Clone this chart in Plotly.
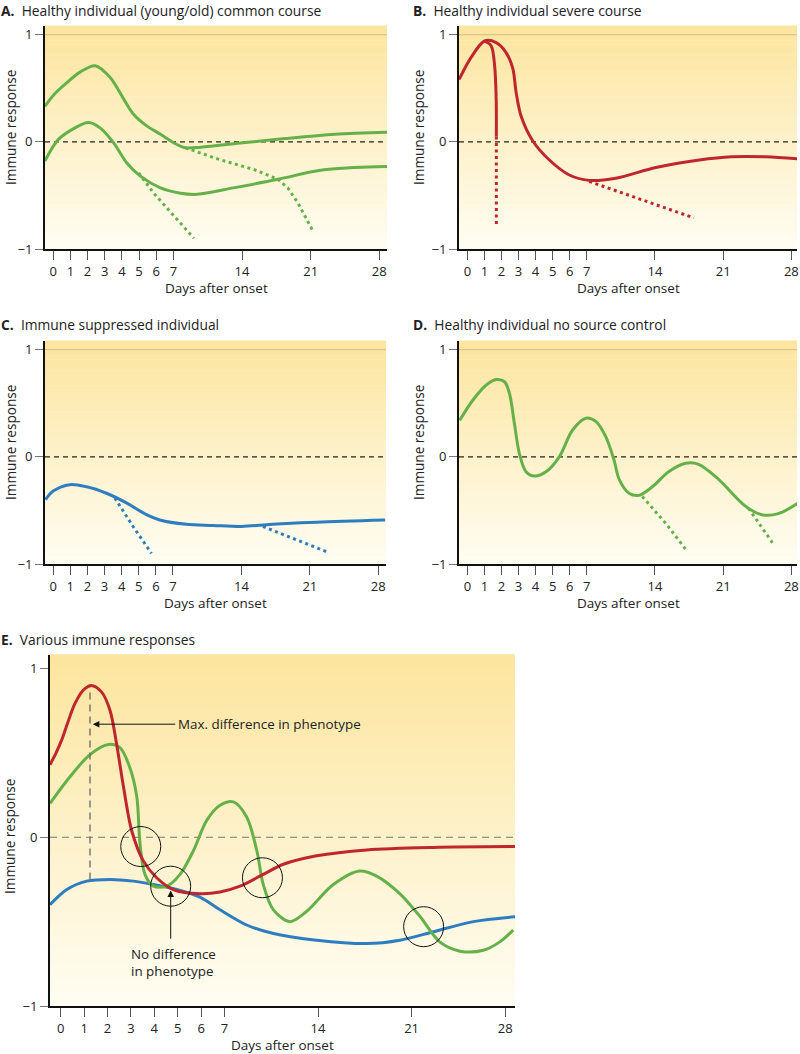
import plotly.graph_objects as go

# ---------------- data (days after onset, immune response) ----------------
A_up_days = [-0.49, 0.1, 0.78, 1.56, 2.44, 3.32, 4.1, 4.69, 5.47, 6.25, 7.05, 8.24, 9.8, 14.1, 18.4, 23.5, 28.9]
A_up_vals = [0.33, 0.45, 0.55, 0.65, 0.71, 0.60, 0.40, 0.255, 0.146, 0.07, -0.01, -0.056, -0.05, -0.01, 0.03, 0.07, 0.09]
A_up_dot_days = [8.24, 11.5, 15.26, 17.66, 18.67, 19.7, 21.25]
A_up_dot_vals = [-0.056, -0.16, -0.26, -0.35, -0.43, -0.57, -0.835]
A_lo_days = [-0.49, 0.29, 1.27, 2.05, 2.73, 3.52, 4.3, 5.08, 6.25, 7.74, 9.45, 13.13, 17.68, 21.7, 25.55, 28.9]
A_lo_vals = [-0.18, 0.02, 0.13, 0.18, 0.13, -0.01, -0.20, -0.32, -0.43, -0.48, -0.49, -0.43, -0.35, -0.27, -0.24, -0.23]
A_lo_dot_days = [4.98, 5.86, 7.05, 9.1]
A_lo_dot_vals = [-0.29, -0.48, -0.69, -0.90]

B_days = [-0.49, 0.23, 1.01, 1.69, 2.28, 2.67, 2.86, 3.15, 3.83, 4.81, 5.98, 7.26, 9.98, 14.09, 18.55, 21.88, 25.38, 28.9]
B_vals = [0.58, 0.79, 0.94, 0.925, 0.83, 0.68, 0.46, 0.24, 0.01, -0.17, -0.31, -0.36, -0.34, -0.24, -0.17, -0.14, -0.14, -0.16]
B_drop_days = [1.01, 1.40, 1.60, 1.69, 1.70]
B_drop_vals = [0.94, 0.894, 0.707, 0.40, 0.05]
B_drop_dot_days = [1.70, 1.70]
B_drop_dot_vals = [0.05, -0.78]
B_dot_days = [7.26, 18.0]
B_dot_vals = [-0.37, -0.71]

C_days = [-0.45, 0.0, 0.97, 1.95, 3.11, 4.28, 5.45, 6.23, 8.37, 11.1, 14.0, 17.15, 21.7, 28.7]
C_vals = [-0.40, -0.32, -0.26, -0.28, -0.34, -0.43, -0.54, -0.59, -0.63, -0.64, -0.65, -0.63, -0.61, -0.59]
C_dot1_days = [3.6, 4.67, 5.74]
C_dot1_vals = [-0.385, -0.65, -0.90]
C_dot2_days = [16.2, 23.0]
C_dot2_vals = [-0.65, -0.896]

D_days = [-0.45, 0.33, 1.11, 1.69, 2.18, 2.47, 2.76, 3.05, 3.44, 3.93, 4.61, 5.39, 6.17, 6.95, 7.93, 8.94, 9.8, 10.33,
          11.34, 12.36, 13.72, 15.4, 17.15, 18.48, 20.53, 23.28, 24.96, 26.67, 28.9]
D_vals = [0.34, 0.53, 0.67, 0.72, 0.70, 0.59, 0.31, 0.03, -0.14, -0.18, -0.14, 0.0, 0.25, 0.36, 0.33, 0.19, -0.03, -0.21,
          -0.34, -0.36, -0.28, -0.14, -0.06, -0.07, -0.21, -0.46, -0.54, -0.53, -0.42]
D_dot1_days = [12.7, 15.1, 17.3]
D_dot1_vals = [-0.37, -0.62, -0.88]
D_dot2_days = [23.6, 26.2]
D_dot2_vals = [-0.48, -0.82]

E_red_days = [-0.46, -0.2, 0.05, 0.3, 0.6, 0.95, 1.3, 1.75, 2.11, 2.39, 2.68, 3.03, 3.53, 4.1, 4.81, 5.95, 6.81, 8.16,
              9.9, 11.41, 13.9, 17.64, 22.63, 28.9]
E_red_vals = [0.43, 0.50, 0.58, 0.68, 0.79, 0.87, 0.90, 0.86, 0.75, 0.55, 0.30, 0.04, -0.14, -0.24, -0.31, -0.335,
              -0.325, -0.29, -0.22, -0.16, -0.11, -0.075, -0.06, -0.055]
E_green_days = [-0.46, 0.26, 1.25, 2.04, 2.54, 2.96, 3.25, 3.39, 3.6, 3.96, 4.53, 5.1, 5.67, 6.24, 6.81, 7.67, 8.66,
                9.42, 9.9, 10.66, 11.9, 13.13, 15.14, 17.13, 18.38, 20.13, 21.63, 23.1, 24.62, 26.36, 27.6, 28.6]
E_green_vals = [0.20, 0.335, 0.49, 0.55, 0.53, 0.41, 0.24, -0.04, -0.22, -0.29, -0.29, -0.22, -0.08, 0.10, 0.19, 0.21,
                0.12, -0.08, -0.28, -0.43, -0.50, -0.44, -0.28, -0.20, -0.23, -0.335, -0.47, -0.62, -0.675, -0.67,
                -0.62, -0.55]
E_blue_days = [-0.46, 0.26, 1.11, 2.11, 3.1, 3.96, 4.96, 5.95, 6.81, 8.66, 10.66, 13.9, 17.64, 20.13, 22.63, 25.62, 28.9]
E_blue_vals = [-0.40, -0.31, -0.26, -0.25, -0.26, -0.28, -0.31, -0.355, -0.43, -0.52, -0.57, -0.61, -0.63, -0.61,
               -0.56, -0.50, -0.47]
E_circle_days = [3.42, 4.7, 9.84, 21.9]
E_circle_vals = [-0.055, -0.29, -0.24, -0.53]
E_maxdiff_day = 1.25
E_maxdiff_range = [-0.25, 0.89]

tick_days = [0, 1, 2, 3, 4, 5, 6, 7, 14, 21, 28]
tick_text = [str(d) for d in tick_days]
ytick_vals = [-1, 0, 1]
ytick_text = ["\u22121", "0", "1"]

panel_titles = ["A.", "B.", "C.", "D.", "E."]
panel_subtitles = ["Healthy individual (young/old) common course", "Healthy individual severe course",
                   "Immune suppressed individual", "Healthy individual no source control",
                   "Various immune responses"]

# ---------------- helpers ----------------
def scale(days):
    """Axis is linear for days 0-7, then compressed (7 days -> 4 units)."""
    return [d if d <= 7 else 7 + (d - 7) * 4 / 7 for d in days]

GREEN = "#66B04A"
RED = "#C0262D"
BLUE = "#2D7DC0"
FONT = "Open Sans"
TXT = "#222"
W, H = 800, 1054

fig = go.Figure()

def line(days, vals, color, n, dotted=False):
    fig.add_trace(go.Scatter(
        x=scale(days), y=vals, mode="lines",
        line=dict(color=color, width=3, shape="linear" if dotted else "spline",
                  smoothing=0.9, dash="3px,3.5px" if dotted else "solid"),
        xaxis="x" + ("" if n == 1 else str(n)), yaxis="y" + ("" if n == 1 else str(n)),
        hoverinfo="skip", showlegend=False))

line(A_up_days, A_up_vals, GREEN, 1)
line(A_up_dot_days, A_up_dot_vals, GREEN, 1, True)
line(A_lo_days, A_lo_vals, GREEN, 1)
line(A_lo_dot_days, A_lo_dot_vals, GREEN, 1, True)

line(B_days, B_vals, RED, 2)
line(B_drop_days, B_drop_vals, RED, 2)
line(B_drop_dot_days, B_drop_dot_vals, RED, 2, True)
line(B_dot_days, B_dot_vals, RED, 2, True)

line(C_days, C_vals, BLUE, 3)
line(C_dot1_days, C_dot1_vals, BLUE, 3, True)
line(C_dot2_days, C_dot2_vals, BLUE, 3, True)

line(D_days, D_vals, GREEN, 4)
line(D_dot1_days, D_dot1_vals, GREEN, 4, True)
line(D_dot2_days, D_dot2_vals, GREEN, 4, True)

line(E_blue_days, E_blue_vals, BLUE, 5)
line(E_green_days, E_green_vals, GREEN, 5)
line(E_red_days, E_red_vals, RED, 5)

# ---------------- layout ----------------
boxes = {1: (45, 387, 26, 249), 2: (459, 797, 26, 249), 3: (45, 386, 341, 564),
         4: (459, 797, 341, 564), 5: (50, 515, 655, 1006)}
xranges = {1: [-0.48, 19.45], 2: [-0.49, 19.33], 3: [-0.48, 19.45], 4: [-0.49, 19.33], 5: [-0.46, 19.42]}
YR = [-1, 1.08]

layout = dict(width=W, height=H, margin=dict(l=0, r=0, t=0, b=0, pad=0), autosize=False,
              paper_bgcolor="white", plot_bgcolor="rgba(0,0,0,0)",
              font=dict(family=FONT, color=TXT), showlegend=False)
shapes = []
annotations = []

top_rgb = (252, 229, 158)
bot_rgb = (255, 253, 242)
NB = 60

for n, (l, r, t, b) in boxes.items():
    sfx = "" if n == 1 else str(n)
    layout["xaxis" + sfx] = dict(
        domain=[l / W, r / W], range=xranges[n], anchor="y" + sfx, automargin=False,
        tickmode="array", tickvals=scale(tick_days), ticktext=tick_text,
        ticks="outside", ticklen=9, tickwidth=1, tickcolor="#555",
        showline=True, linecolor="#111", linewidth=2, showgrid=False, zeroline=False,
        ticklabeloverflow="allow",
        tickfont=dict(size=13, color=TXT), fixedrange=True)
    layout["yaxis" + sfx] = dict(
        domain=[1 - b / H, 1 - t / H], range=YR, anchor="x" + sfx, automargin=False,
        tickmode="array", tickvals=ytick_vals, ticktext=ytick_text,
        ticks="outside", ticklen=8, tickwidth=1, tickcolor="#777",
        showline=True, linecolor="#111", linewidth=2, showgrid=False, zeroline=False,
        tickfont=dict(size=13, color=TXT), fixedrange=True)
    for i in range(NB):
        f = i / (NB - 1)
        c = tuple(round(top_rgb[k] + (bot_rgb[k] - top_rgb[k]) * f) for k in range(3))
        shapes.append(dict(type="rect", xref="x%s domain" % sfx, yref="y%s domain" % sfx,
                           x0=0, x1=1, y0=1 - (i + 1) / NB, y1=1 - i / NB + 0.002,
                           fillcolor="rgb(%d,%d,%d)" % c, line=dict(width=0), layer="below"))
    if n != 5:
        shapes.append(dict(type="line", xref="x%s domain" % sfx, yref="y" + sfx, x0=0, x1=1, y0=1, y1=1,
                           line=dict(color="#D9C48C", width=1.3), layer="below"))
    shapes.append(dict(type="line", xref="x%s domain" % sfx, yref="y" + sfx, x0=0, x1=1, y0=0, y1=0,
                       line=dict(color="#222" if n != 5 else "#777", width=1.2,
                                 dash="5px,4px" if n != 5 else "7px,5px"), layer="below"))

# panel titles (top edge of text box in pixels)
title_pos = {1: (0, 0), 2: (412, 0), 3: (0, 314), 4: (412, 314), 5: (0, 629)}
for n, (x, y) in title_pos.items():
    annotations.append(dict(xref="paper", yref="paper", x=x / W, y=1 - y / H, xanchor="left", yanchor="top",
                            showarrow=False, font=dict(size=13.8, color=TXT), borderpad=0,
                            text="<b>%s</b>  %s" % (panel_titles[n - 1], panel_subtitles[n - 1])))

for n, (l, r, t, b) in boxes.items():
    xt_y = b + 39
    annotations.append(dict(xref="paper", yref="paper", x=((l + r) / 2) / W,
                            y=1 - xt_y / H, xanchor="center", yanchor="middle", showarrow=False,
                            text="Days after onset", font=dict(size=13.5, color=TXT)))
    yx = {1: 10, 2: 418, 3: 10, 4: 418, 5: 9}[n]
    yy = {1: 128, 2: 128, 3: 443, 4: 443, 5: 837}[n]
    annotations.append(dict(xref="paper", yref="paper", x=yx / W, y=1 - yy / H, xanchor="center",
                            yanchor="middle", showarrow=False, textangle=-90,
                            text="Immune response", font=dict(size=13.6, color=TXT)))

mx = scale([E_maxdiff_day])[0]
shapes.append(dict(type="line", xref="x5", yref="y5", x0=mx, x1=mx,
                   y0=E_maxdiff_range[0], y1=E_maxdiff_range[1],
                   line=dict(color="#666", width=1.3, dash="7px,5px")))
for d, v in zip(E_circle_days, E_circle_vals):
    shapes.append(dict(type="circle", xref="x5", yref="y5", xsizemode="pixel", ysizemode="pixel",
                       xanchor=scale([d])[0], yanchor=v, x0=-20, x1=20, y0=-20, y1=20,
                       line=dict(color="#111", width=1)))

annotations.append(dict(xref="x5", yref="y5", x=scale([1.37])[0], y=0.67, axref="x5", ayref="y5",
                        ax=scale([4.96])[0], ay=0.67, showarrow=True, arrowhead=2, arrowsize=1.3,
                        arrowwidth=1, arrowcolor="#111", text=""))
annotations.append(dict(xref="x5", yref="y5", x=scale([4.92])[0], y=0.67, xanchor="left", yanchor="middle",
                        showarrow=False, text="Max. difference in phenotype", font=dict(size=13.4, color=TXT)))
annotations.append(dict(xref="x5", yref="y5", x=scale([4.7])[0], y=-0.316, axref="x5", ayref="y5",
                        ax=scale([4.7])[0], ay=-0.61, showarrow=True, arrowhead=2, arrowsize=1.3,
                        arrowwidth=1, arrowcolor="#111", text=""))
annotations.append(dict(xref="x5", yref="y5", x=scale([2.9])[0], y=-0.74, xanchor="left", yanchor="middle",
                        showarrow=False, align="left", text="No difference<br>in phenotype",
                        font=dict(size=13.4, color=TXT)))

layout["shapes"] = shapes
layout["annotations"] = annotations
fig.update_layout(**layout)

fig.write_html("out.html", config={"displayModeBar": False},
               post_script="document.body.style.margin='0';document.body.style.overflow='hidden';")
